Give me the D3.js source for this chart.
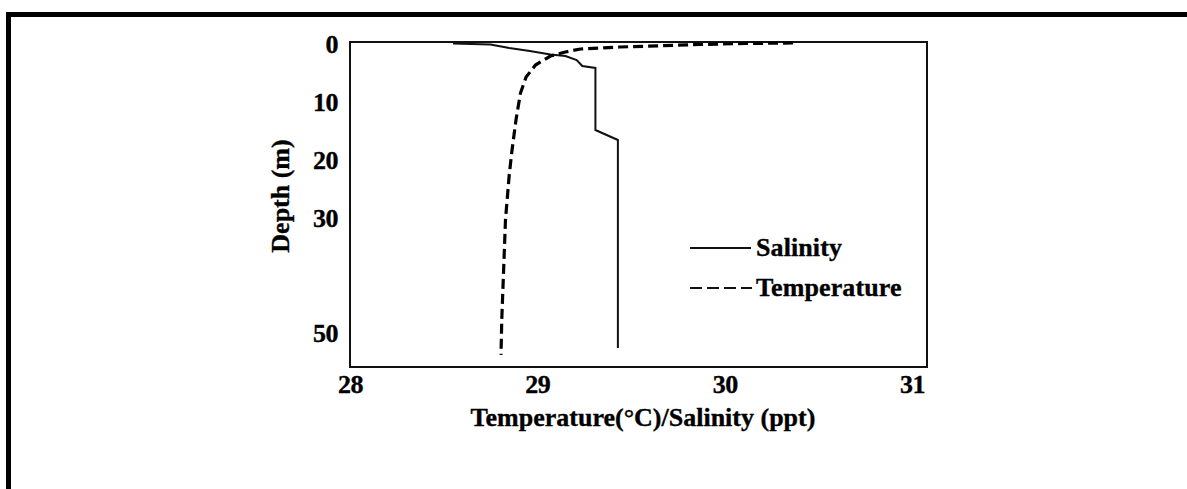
<!DOCTYPE html>
<html><head><meta charset="utf-8">
<script src="https://cdn.jsdelivr.net/npm/d3@7"></script>
<style>
html,body{margin:0;padding:0;background:#fff;}
svg{display:block;}
text{font-family:"Liberation Serif","Times New Roman",serif;font-weight:bold;fill:#000;stroke:#000;stroke-width:0.35px;}
</style></head>
<body>
<script>
// ---- data ----
const salinityValue = [28.55, 28.75, 28.85, 28.96, 29.07, 29.15, 29.21, 29.24, 29.31, 29.31, 29.43, 29.43];
const salinityDepth = [0.26, 0.43, 1.04, 1.56, 2.17, 2.43, 3.12, 4.16, 4.5, 15.25, 16.98, 53.0];
const temperatureValue = [30.365, 30.11, 29.87, 29.44, 29.23, 29.15, 29.07, 28.99, 28.94, 28.91, 28.886, 28.865, 28.85, 28.83, 28.82, 28.81, 28.806];
const temperatureDepth = [0.17, 0.26, 0.43, 0.87, 1.21, 1.73, 2.43, 3.99, 6.07, 8.84, 13.5, 18.7, 23.0, 30.8, 39.5, 48.2, 54.2];
const xTicks = [28, 29, 30, 31];
const yTicks = [0, 10, 20, 30, 50];
const legendLabels = ["Salinity", "Temperature"];
const xTitle = "Temperature(°C)/Salinity (ppt)";
const yTitle = "Depth (m)";

const W = 1187, H = 489;
const svg = d3.select("body").append("svg").attr("width", W).attr("height", H);

// outer frame (top and left bands)
svg.append("rect").attr("x", 6).attr("y", 12).attr("width", W - 6).attr("height", 5).attr("fill", "#000");
svg.append("rect").attr("x", 6).attr("y", 12).attr("width", 5).attr("height", H - 12).attr("fill", "#000");

const x = d3.scaleLinear().domain([28, 31.08]).range([350, 927]);
const y = d3.scaleLinear().domain([0, 56.3]).range([42, 367]);

// plot box
svg.append("rect")
  .attr("x", x.range()[0]).attr("y", y.range()[0])
  .attr("width", x.range()[1] - x.range()[0]).attr("height", y.range()[1] - y.range()[0])
  .attr("fill", "none").attr("stroke", "#111").attr("stroke-width", 2);

// axes via d3 axis generators (no tick lines)
const xAxis = svg.append("g").attr("transform", `translate(0,${y.range()[1]})`)
  .call(d3.axisBottom(x).tickValues(xTicks).tickFormat(d3.format("d")).tickSize(0).tickPadding(0));
xAxis.select(".domain").remove();
xAxis.selectAll("text").attr("font-size", 26).attr("font-family", null)
  .attr("y", 26).attr("dy", 0).attr("letter-spacing", -0.5);

const yAxis = svg.append("g").attr("transform", `translate(${x.range()[0]},0)`)
  .call(d3.axisLeft(y).tickValues(yTicks).tickFormat(d3.format("d")).tickSize(0).tickPadding(0));
yAxis.select(".domain").remove();
yAxis.selectAll("text").attr("font-size", 26).attr("font-family", null)
  .attr("x", -12).attr("dy", "0.42em").attr("letter-spacing", -0.5);

// titles
svg.append("text").attr("x", 643).attr("y", 426).attr("text-anchor", "middle")
  .attr("font-size", 26).attr("letter-spacing", 0).text(xTitle);
svg.append("text").attr("transform", "translate(289,196) rotate(-90)").attr("text-anchor", "middle")
  .attr("font-size", 26).attr("letter-spacing", 0).text(yTitle);

// lines
const line = d3.line().x(d => x(d[0])).y(d => y(d[1]));
const sal = salinityValue.map((v, i) => [v, salinityDepth[i]]);
const tem = temperatureValue.map((v, i) => [v, temperatureDepth[i]]);

svg.append("path").datum(sal).attr("d", line)
  .attr("fill", "none").attr("stroke", "#111").attr("stroke-width", 2);
svg.append("path").datum(tem).attr("d", line)
  .attr("fill", "none").attr("stroke", "#000").attr("stroke-width", 3.2)
  .attr("stroke-dasharray", "10,5");

// legend
const lg = svg.append("g");
lg.append("line").attr("x1", 690).attr("x2", 751).attr("y1", 248).attr("y2", 248)
  .attr("stroke", "#111").attr("stroke-width", 2);
lg.append("line").attr("x1", 690).attr("x2", 752).attr("y1", 288).attr("y2", 288)
  .attr("stroke", "#111").attr("stroke-width", 2).attr("stroke-dasharray", "12,5");
lg.selectAll("text.leg").data(legendLabels).enter().append("text")
  .attr("class", "leg").attr("x", 756).attr("y", (d, i) => 256 + i * 40)
  .attr("font-size", 26).attr("letter-spacing", 0.1).text(d => d);
</script>
</body></html>
